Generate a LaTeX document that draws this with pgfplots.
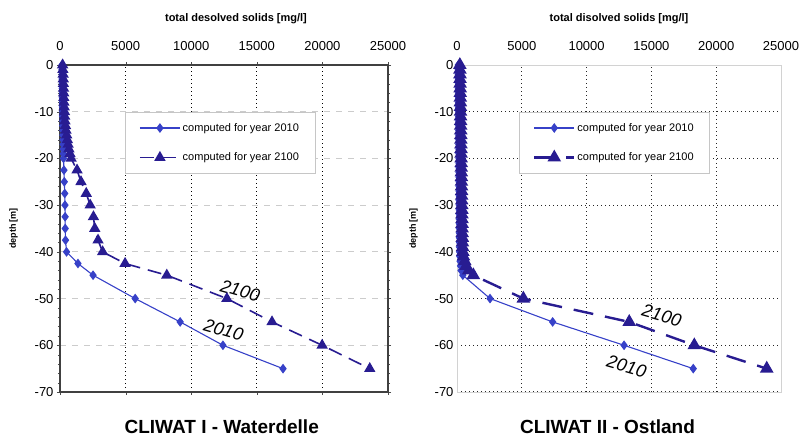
\documentclass[border=0pt]{standalone}
\usepackage{pgfplots}
\pgfplotsset{compat=1.18}
\usepackage{fontspec}
\setmainfont{Liberation Sans}
\definecolor{cA}{RGB}{55,65,200}
\definecolor{cB}{RGB}{40,28,145}
\pgfplotstableread{
d v
0 150
-1 150
-2 160
-3 160
-4 170
-5 170
-6 180
-7 180
-8 190
-9 190
-10 200
-11 200
-12 210
-13 210
-14 220
-15 220
-16 230
-17 240
-18 250
-19 260
-20 270
-22.5 300
-25 330
-27.5 360
-30 380
-32.5 390
-35 400
-37.5 420
-40 500
-42.5 1370
-45 2520
-50 5730
-55 9160
-60 12420
-65 17000
}\leftA
\pgfplotstableread{
d v
0 200
-1 220
-2 240
-3 250
-4 260
-5 270
-6 280
-7 290
-8 300
-9 320
-10 340
-11 360
-12 380
-13 420
-14 460
-15 510
-16 560
-17 620
-18 680
-19 760
-20 850
-22.5 1300
-25 1600
-27.5 2000
-30 2300
-32.5 2550
-35 2650
-37.5 2900
-40 3250
-42.5 4960
-45 8140
-50 12720
-55 16160
-60 19980
-65 23610
}\leftB
\pgfplotstableread{
d v
0 100
-1 100
-2 105
-3 105
-4 110
-5 110
-6 115
-7 115
-8 120
-9 120
-10 125
-11 125
-12 130
-13 130
-14 135
-15 135
-16 140
-17 140
-18 145
-19 145
-20 150
-21 150
-22 155
-23 155
-24 160
-25 160
-26 165
-27 165
-28 170
-29 170
-30 175
-31 175
-32 180
-33 180
-34 185
-35 185
-36 190
-37 190
-38 195
-39 195
-40 200
-41 220
-42 240
-43 270
-44 320
-45 450
-50 2550
-55 7380
-60 12890
-65 18230
}\rightA
\pgfplotstableread{
d v
0 220
-1 225
-2 230
-3 235
-4 240
-5 245
-6 250
-7 255
-8 260
-9 265
-10 270
-11 275
-12 280
-13 285
-14 290
-15 295
-16 300
-17 305
-18 310
-19 315
-20 320
-21 325
-22 330
-23 335
-24 340
-25 345
-26 350
-27 355
-28 360
-29 365
-30 370
-31 375
-32 380
-33 385
-34 390
-35 395
-36 400
-37 410
-38 420
-39 430
-40 450
-41 500
-42 600
-43 700
-44 900
-45 1260
-50 5120
-55 13290
-60 18310
-65 23900
}\rightB
\pgfplotsset{
  base/.style={
    scale only axis,
    height=327pt,
    xmin=0, xmax=25000, ymin=-70, ymax=0,
    xtick={0,5000,10000,15000,20000,25000},
    ytick={-70,-60,-50,-40,-30,-20,-10,0},
    scaled ticks=false,
    /pgf/number format/1000 sep={},
    /pgf/number format/assume math mode=true,
    xticklabel pos=upper,
    tick label style={font=\fontsize{13}{15}\selectfont},
    xlabel style={font=\fontsize{11}{13}\selectfont\bfseries, yshift=11pt},
    ylabel style={font=\fontsize{9}{11}\selectfont\bfseries, yshift=10pt},
    ylabel={depth [m]},
    grid=major,
    legend cell align=left,
    legend image code/.code={\draw[mark repeat=2,mark phase=2,##1] plot coordinates {(0pt,0pt)(20pt,0pt)(40pt,0pt)};},
    legend style={anchor=north west, draw=gray!45, fill=white, font=\fontsize{11}{13}\selectfont,
      inner xsep=14pt, inner ysep=9pt, row sep=16pt},
  }
}
\begin{document}
\begin{tikzpicture}
\useasboundingbox (0,0) rectangle (804pt,441pt);
\begin{axis}[base,
  at={(60pt,49pt)}, anchor=south west, width=328pt,
  xlabel={total desolved solids [mg/l]},
  xlabel style={xshift=12pt},
  xticklabel style={yshift=8pt},
  axis line style={black!75, line width=1.2pt},
  major x grid style={black, dash pattern=on 1.2pt off 2.8pt, line width=1pt},
  major y grid style={gray!40, dash pattern=on 6pt off 6pt, line width=0.8pt},
  tick align=outside, major tick length=3pt, tick style={black!70},
  minor y tick num=4, minor tick length=2pt,
  legend style={at={(0.198,0.856)}},
]
\addplot[cA, line width=1.1pt, mark=diamond*, mark size=4pt, mark options={solid}] table[x=v,y=d] {\leftA};
\addlegendentry{computed for year 2010}
\addplot[cB, line width=1.6pt, dash pattern=on 14pt off 8pt, mark=triangle*, mark size=5pt, mark options={solid}] table[x=v,y=d] {\leftB};
\addlegendentry{computed for year 2100}
\node[rotate=-16, font=\fontsize{18}{20}\selectfont\itshape] at (axis cs:13740,-48.3) {2100};
\node[rotate=-16, font=\fontsize{18}{20}\selectfont\itshape] at (axis cs:12470,-56.7) {2010};
\end{axis}
\begin{axis}[base,
  at={(457pt,49pt)}, anchor=south west, width=324pt,
  xlabel={total disolved solids [mg/l]},
  xticklabel style={yshift=11pt},
  axis line style={gray!35, line width=0.8pt},
  major grid style={black!85, dash pattern=on 1.2pt off 2.8pt, line width=1pt},
  major tick length=0pt,
  legend style={at={(0.191,0.856)}},
]
\addplot[cA, line width=1.1pt, mark=diamond*, mark size=4pt, mark options={solid}] table[x=v,y=d] {\rightA};
\addlegendentry{computed for year 2010}
\addplot[cB, line width=2.4pt, dash pattern=on 20pt off 12pt, mark=triangle*, mark size=5.5pt, mark options={solid}] table[x=v,y=d] {\rightB};
\addlegendentry{computed for year 2100}
\node[rotate=-16, font=\fontsize{18}{20}\selectfont\itshape] at (axis cs:15800,-53.6) {2100};
\node[rotate=-16, font=\fontsize{18}{20}\selectfont\itshape] at (axis cs:13090,-64.5) {2010};
\end{axis}
\node[font=\fontsize{19}{21}\selectfont\bfseries] at (221.7pt,14pt) {CLIWAT I - Waterdelle};
\node[font=\fontsize{19}{21}\selectfont\bfseries] at (607.5pt,14pt) {CLIWAT II - Ostland};
\end{tikzpicture}
\end{document}
